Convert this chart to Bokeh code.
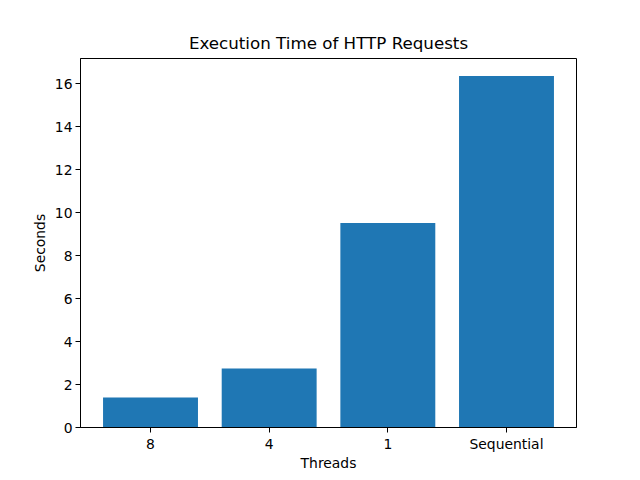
from bokeh.plotting import figure
from bokeh.models import FixedTicker, Range1d
from bokeh.embed import file_html
from bokeh.resources import INLINE

categories = ["8", "4", "1", "Sequential"]
seconds = [1.40, 2.74, 9.52, 16.35]

xs = list(range(len(categories)))

p = figure(width=640, height=480, output_backend="svg", toolbar_location=None,
           x_range=Range1d(-0.59, 3.59), y_range=Range1d(0, 17.17),
           title="Execution Time of HTTP Requests",
           min_border_left=80, min_border_right=64, min_border_top=58, min_border_bottom=53)
p.vbar(x=xs, top=seconds, width=0.8, color="#1f77b4", line_color=None)

p.title.text_font = "DejaVu Sans"
p.title.text_font_size = "16.7px"
p.title.text_font_style = "normal"
p.title.align = "center"
p.title.text_color = "black"
p.title.standoff = 12

p.xgrid.visible = False
p.ygrid.visible = False
p.outline_line_color = "black"
p.outline_line_width = 1
p.outline_line_alpha = 1

p.xaxis.ticker = FixedTicker(ticks=xs)
p.xaxis.major_label_overrides = {i: c for i, c in enumerate(categories)}
p.yaxis.ticker = FixedTicker(ticks=[0, 2, 4, 6, 8, 10, 12, 14, 16])
p.xaxis.axis_label = "Threads"
p.yaxis.axis_label = "Seconds"
for ax in (p.xaxis, p.yaxis):
    ax.axis_label_text_font = "DejaVu Sans"
    ax.axis_label_text_font_size = "13.9px"
    ax.axis_label_text_font_style = "normal"
    ax.axis_label_text_color = "black"
    ax.major_label_text_font = "DejaVu Sans"
    ax.major_label_text_font_size = "13.9px"
    ax.major_label_text_color = "black"
    ax.major_tick_out = 5
    ax.major_tick_in = 0
    ax.minor_tick_out = 0
    ax.minor_tick_in = 0
    ax.axis_line_color = "black"
    ax.major_tick_line_color = "black"
    ax.major_label_standoff = 3
p.yaxis.axis_label_standoff = 4
p.xaxis.axis_label_standoff = 0

open("out.html", "w").write(file_html(p, INLINE))
